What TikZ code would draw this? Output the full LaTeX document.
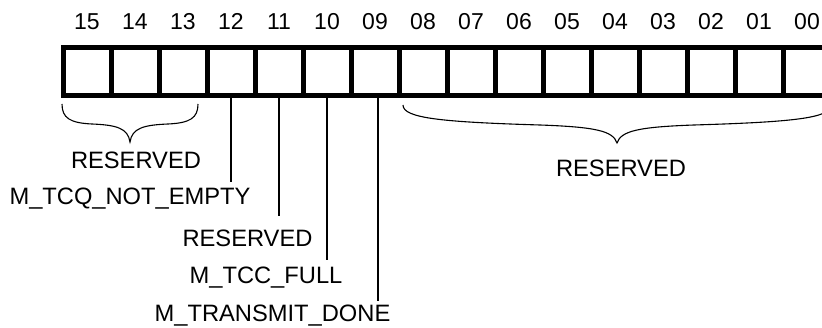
\documentclass[tikz,border=0pt]{standalone}
\usepackage{fontspec}
\setmainfont{Liberation Sans}
\usetikzlibrary{positioning}

\begin{document}
\begin{tikzpicture}[x=1pt,y=-1pt,label distance=17.5pt,
  every node/.style={font=\fontsize{23}{28}\selectfont,inner sep=0pt},
  cell/.style={draw,line width=5pt,minimum size=48pt,outer sep=0pt},
  lead/.style={line width=2pt},
  bracecurve/.style={line width=1.1pt},
  lbl/.style={anchor=base,font=\fontsize{23.7}{28}\selectfont}]
\useasboundingbox (0,0) rectangle (822,328);
\clip (0,0) rectangle (822,328);
% register bits 15..00
\node[cell,label=above:15] (b15) at (87,71.5) {};
\node[cell,right=0pt of b15,label=above:14] (b14) {}; \node[cell,right=0pt of b14,label=above:13] (b13) {};
\node[cell,right=0pt of b13,label=above:12] (b12) {}; \node[cell,right=0pt of b12,label=above:11] (b11) {};
\node[cell,right=0pt of b11,label=above:10] (b10) {}; \node[cell,right=0pt of b10,label=above:09] (b09) {};
\node[cell,right=0pt of b09,label=above:08] (b08) {}; \node[cell,right=0pt of b08,label=above:07] (b07) {};
\node[cell,right=0pt of b07,label=above:06] (b06) {}; \node[cell,right=0pt of b06,label=above:05] (b05) {};
\node[cell,right=0pt of b05,label=above:04] (b04) {}; \node[cell,right=0pt of b04,label=above:03] (b03) {};
\node[cell,right=0pt of b03,label=above:02] (b02) {}; \node[cell,right=0pt of b02,label=above:01] (b01) {};
\node[cell,right=0pt of b01,label=above:00] (b00) {};
% field names
\node[lbl] (resA) at (136,168.3) {RESERVED};
\node[lbl] (tcq) at (130,205) {M\_TCQ\_NOT\_EMPTY};
\node[lbl] (resB) at (247.5,247) {RESERVED};
\node[lbl] (tcc) at (266,284) {M\_TCC\_FULL};
\node[lbl] (done) at (272.5,322) {M\_TRANSMIT\_DONE};
\node[lbl] (resC) at (621,176.7) {RESERVED};
% leads
\coordinate (e12) at (231,182); \coordinate (e11) at (279,216.5);
\coordinate (e10) at (327,260); \coordinate (e09) at (378,301.5);
\draw[lead] (b12.south) -- (b12.south |- e12); \draw[lead] (b11.south) -- (b11.south |- e11);
\draw[lead] (b10.south) -- (b10.south |- e10); \draw[lead] (b09.south -| e09) -- (e09);
% braces
\draw[bracecurve] (62,104) .. controls (62,118) and (70,123) .. (92,124) .. controls (116,125) and (128,128) .. (130,142)
  .. controls (132,128) and (144,125) .. (168,124) .. controls (190,123) and (198,118) .. (198,104);
\draw[bracecurve] (403,105) .. controls (403,118) and (440,122) .. (540,125) .. controls (596,127) and (613,131) .. (617,143)
  .. controls (621,131) and (638,127) .. (694,125) .. controls (794,122) and (831,118) .. (831,105);
\end{tikzpicture}
\end{document}
